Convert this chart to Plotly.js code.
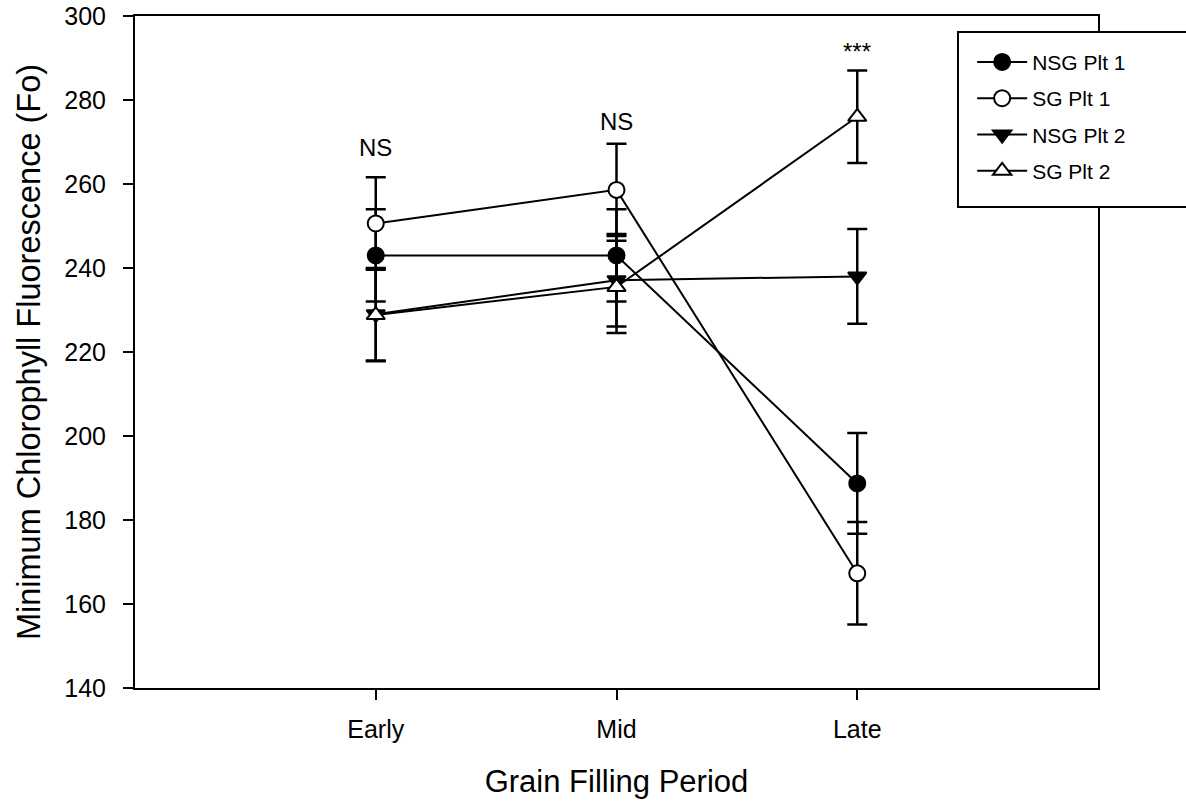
<!DOCTYPE html>
<html>
<head>
<meta charset="utf-8">
<script src="https://cdn.plot.ly/plotly-3.0.1.min.js"></script>
<style>html,body{margin:0;padding:0;background:#fff;}#chart{width:1186px;height:803px;}</style>
</head>
<body>
<div id="chart"></div>
<script>
// ---- data ----
var categories = ["Early", "Mid", "Late"];
var catPos = [1, 2, 3];
var seriesNames = ["NSG Plt 1", "SG Plt 1", "NSG Plt 2", "SG Plt 2"];
var nsgPlt1 = [243, 243, 188.7];
var nsgPlt1Err = [11, 11, 12];
var sgPlt1 = [250.6, 258.6, 167.3];
var sgPlt1Err = [11, 11, 12.2];
var nsgPlt2 = [229, 237.1, 238];
var nsgPlt2Err = [11, 11, 11.3];
var sgPlt2 = [228.8, 235.5, 276];
var sgPlt2Err = [11, 11, 11];
var sigLabels = ["NS", "NS", "***"];
var sigY = [268.6, 274.8, 291.6];
var yTicks = [140, 160, 180, 200, 220, 240, 260, 280, 300];

var FONT = "Liberation Sans, Arial, sans-serif";

function mk(name, y, err, symbol, fill, grp) {
  return {
    type: "scatter", mode: "lines+markers", name: name,
    x: catPos, y: y, legendgroup: grp,
    line: {color: "black", width: 2},
    marker: {symbol: symbol, size: 16, color: fill, line: {color: "black", width: 2}},
    error_y: {type: "data", array: err, visible: true, color: "black", thickness: 2.5, width: 10}
  };
}

var data = [
  mk(seriesNames[0], nsgPlt1, nsgPlt1Err, "circle", "black", "a"),
  mk(seriesNames[1], sgPlt1, sgPlt1Err, "circle", "white", "b"),
  mk(seriesNames[2], nsgPlt2, nsgPlt2Err, "triangle-down", "black", "c"),
  mk(seriesNames[3], sgPlt2, sgPlt2Err, "triangle-up", "white", "d")
];

var annotations = sigLabels.map(function (t, i) {
  return {x: catPos[i], y: sigY[i], xref: "x", yref: "y", text: t, showarrow: false,
          xanchor: "center", yanchor: "middle", font: {family: FONT, size: 24, color: "black"}};
});

var layout = {
  width: 1186, height: 803,
  margin: {l: 135, r: 88, t: 16, b: 115},
  paper_bgcolor: "white", plot_bgcolor: "white",
  font: {family: FONT, color: "black"},
  showlegend: true,
  legend: {x: 0.8693, y: 0.9617, xanchor: "left", yanchor: "top",
           bgcolor: "rgba(0,0,0,0)", borderwidth: 0,
           font: {family: FONT, size: 21, color: "black"},
           tracegroupgap: 6, itemwidth: 50},
  xaxis: {
    range: [0, 4], tickmode: "array", tickvals: catPos, ticktext: categories,
    ticks: "outside", ticklen: 10, tickwidth: 2, tickcolor: "black",
    showline: true, linewidth: 2, linecolor: "black", mirror: true,
    showgrid: false, zeroline: false,
    tickfont: {family: FONT, size: 25, color: "black"},
    ticklabelstandoff: 8,
    title: {text: "Grain Filling Period", font: {family: FONT, size: 31, color: "black"}, standoff: 28}
  },
  yaxis: {
    range: [140, 300], tickmode: "array", tickvals: yTicks,
    ticks: "outside", ticklen: 10, tickwidth: 2, tickcolor: "black",
    showline: true, linewidth: 2, linecolor: "black", mirror: true,
    showgrid: false, zeroline: false,
    tickfont: {family: FONT, size: 25, color: "black"},
    ticklabelstandoff: 12,
    title: {text: "Minimum Chlorophyll Fluorescence (Fo)", font: {family: FONT, size: 32.5, color: "black"}, standoff: 14}
  },
  shapes: [{type: "rect", xref: "paper", yref: "paper", x0: 0.8546, x1: 1.1, y0: 0.7158, y1: 0.9762,
            fillcolor: "white", line: {color: "black", width: 2}, layer: "above"}],
  annotations: annotations
};

Plotly.newPlot("chart", data, layout, {displayModeBar: false, staticPlot: true});
</script>
</body>
</html>
